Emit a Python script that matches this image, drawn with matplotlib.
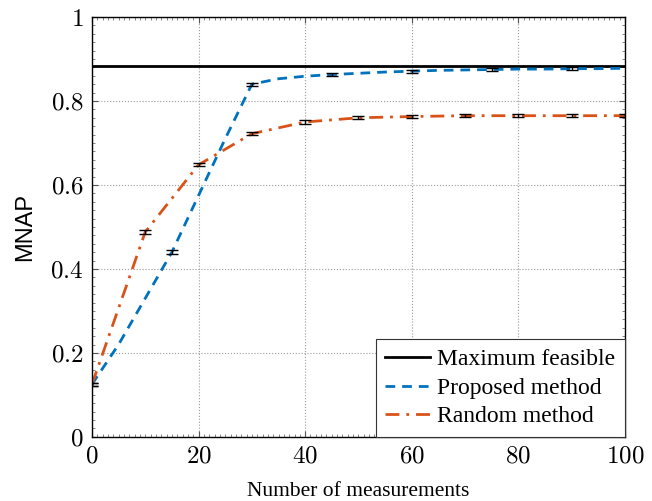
import numpy as np
import matplotlib
matplotlib.use('Agg')
import matplotlib.pyplot as plt
from matplotlib.ticker import MultipleLocator

# ── 데이터 ────────────────────────────────────────────
max_feasible = 0.883

prop_x = [0, 5, 10, 15, 20, 25, 30, 35, 40, 45, 50, 55, 60, 65, 70, 75, 80, 85, 90, 95, 100]
prop_y = [0.125, 0.22, 0.33, 0.44, 0.575, 0.71, 0.84, 0.853, 0.859, 0.863, 0.866, 0.869,
          0.871, 0.873, 0.874, 0.875, 0.876, 0.876, 0.877, 0.877, 0.878]
prop_err_x = [0, 15, 30, 45, 60, 75, 90]

rand_x = [0, 10, 20, 30, 40, 50, 60, 70, 80, 90, 100]
rand_y = [0.125, 0.488, 0.648, 0.722, 0.750, 0.760, 0.763, 0.765, 0.765, 0.765, 0.765]
err_size = 0.004

x_ticks = [0, 20, 40, 60, 80, 100]
y_ticks = [0, 0.2, 0.4, 0.6, 0.8, 1]
y_tick_labels = ["0", "0.2", "0.4", "0.6", "0.8", "1"]

blue = "#0072BD"
orange = "#D95319"

plt.rcParams['font.family'] = ['Liberation Serif', 'DejaVu Serif']
plt.rcParams['mathtext.fontset'] = 'cm'

fig = plt.figure(figsize=(6.52, 5.01), dpi=100)
ax = fig.add_axes([0.141, 0.128, 0.8176, 0.838])

ax.axhline(max_feasible, color="black", lw=2.0, label="Maximum feasible")
ax.plot(prop_x, prop_y, color=blue, lw=2.0, ls=(0, (3.5, 2.5)), label="Proposed method")
ax.plot(rand_x, rand_y, color=orange, lw=2.0, ls=(0, (5, 2.5, 1, 2.5)), label="Random method")

pe_y = [prop_y[prop_x.index(v)] for v in prop_err_x]
ax.errorbar(prop_err_x, pe_y, yerr=err_size, fmt="none", ecolor="black",
            elinewidth=1.0, capsize=4, capthick=1.0, zorder=3)
ax.errorbar(rand_x, rand_y, yerr=err_size, fmt="none", ecolor="black",
            elinewidth=1.0, capsize=4, capthick=1.0, zorder=3)

ax.set_xlim(0, 100)
ax.set_ylim(0, 1)
ax.set_xticks(x_ticks)
ax.set_xticklabels([f"${v}$" for v in x_ticks])
ax.set_yticks(y_ticks)
ax.set_yticklabels([f"${s}$" for s in y_tick_labels])
ax.xaxis.set_minor_locator(MultipleLocator(1))
ax.yaxis.set_minor_locator(MultipleLocator(0.02))
ax.tick_params(which="both", direction="in", top=True, right=True, labelsize=18,
               color="#555555", pad=6)
ax.tick_params(which="major", length=4)
ax.tick_params(which="minor", length=2, width=0.5)
ax.grid(True, which="major", ls=":", color="#999999", lw=0.8)
for s in ax.spines.values():
    s.set_linewidth(1.0)

ax.set_xlabel("Number of measurements", fontsize=15.5, labelpad=11)
ax.set_ylabel("MNAP", fontsize=17, family=["Liberation Sans", "DejaVu Sans"], labelpad=10)

leg = ax.legend(loc="lower right", fontsize=17, fancybox=False, framealpha=1,
                edgecolor="#333333", borderaxespad=0, handlelength=1.9,
                handletextpad=0.3, labelspacing=0.3, borderpad=0.4)
leg.get_frame().set_linewidth(0.8)

plt.savefig("out.png", dpi=100)
plt.close()
